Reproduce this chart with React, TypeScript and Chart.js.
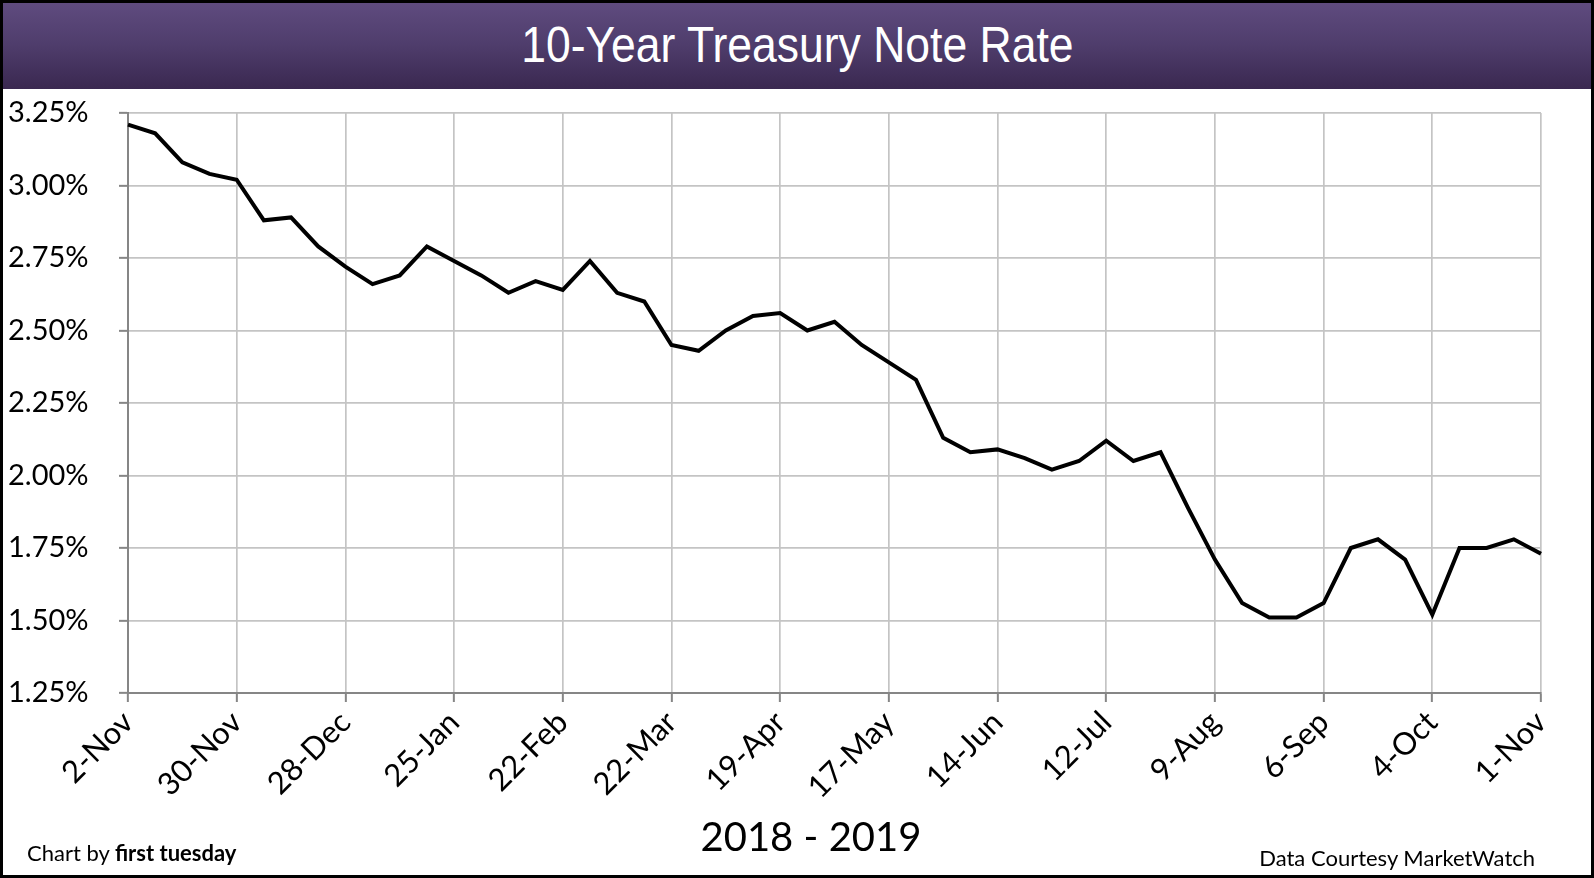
import React, { useEffect, useRef } from 'react';
import { Chart, registerables } from 'chart.js';

Chart.register(...registerables);

const weeks = [
  '2-Nov', '9-Nov', '16-Nov', '23-Nov', '30-Nov', '7-Dec', '14-Dec', '21-Dec', '28-Dec',
  '4-Jan', '11-Jan', '18-Jan', '25-Jan', '1-Feb', '8-Feb', '15-Feb', '22-Feb',
  '1-Mar', '8-Mar', '15-Mar', '22-Mar', '29-Mar', '5-Apr', '12-Apr', '19-Apr', '26-Apr',
  '3-May', '10-May', '17-May', '24-May', '31-May', '7-Jun', '14-Jun', '21-Jun', '28-Jun',
  '5-Jul', '12-Jul', '19-Jul', '26-Jul', '2-Aug', '9-Aug', '16-Aug', '23-Aug', '30-Aug',
  '6-Sep', '13-Sep', '20-Sep', '27-Sep', '4-Oct', '11-Oct', '18-Oct', '25-Oct', '1-Nov',
];

const rates = [
  3.21, 3.18, 3.08, 3.04, 3.02, 2.88, 2.89, 2.79, 2.72,
  2.66, 2.69, 2.79, 2.74, 2.69, 2.63, 2.67, 2.64,
  2.74, 2.63, 2.60, 2.45, 2.43, 2.50, 2.55, 2.56, 2.50,
  2.53, 2.45, 2.39, 2.33, 2.13, 2.08, 2.09, 2.06, 2.02,
  2.05, 2.12, 2.05, 2.08, 1.89, 1.71, 1.56, 1.51, 1.51,
  1.56, 1.75, 1.78, 1.71, 1.52, 1.75, 1.75, 1.78, 1.73,
];

const labelEvery = 4;
const yMin = 1.25;
const yMax = 3.25;
const yStep = 0.25;

const titleText = '10-Year Treasury Note Rate';
const xAxisTitle = '2018 - 2019';
const creditLeft = 'Chart by ';
const creditLeftBold = 'first tuesday';
const creditRight = 'Data Courtesy MarketWatch';

const AXIS = '#868686';
const GRID = '#c4c4c4';
const FONT = 'Lato, "Open Sans", sans-serif';

export default function App() {
  const ref = useRef<HTMLCanvasElement | null>(null);

  useEffect(() => {
    if (!ref.current) return;
    const chart = new Chart(ref.current, {
      type: 'line',
      data: {
        labels: weeks,
        datasets: [
          {
            label: '10-Year Treasury Note Rate',
            data: rates,
            borderColor: '#000000',
            borderWidth: 4,
            pointRadius: 0,
            tension: 0,
            fill: false,
          },
        ],
      },
      options: {
        animation: false,
        responsive: false,
        devicePixelRatio: 1,
        layout: { padding: { left: 8, right: 53, top: 24, bottom: 0 } },
        plugins: {
          legend: { display: false },
          title: { display: false },
          tooltip: { enabled: false },
        },
        scales: {
          x: {
            type: 'category',
            offset: false,
            grid: {
              color: (ctx: any) => (ctx.index === 0 ? AXIS : GRID),
              lineWidth: 1.7,
              tickLength: 9,
              tickColor: AXIS,
              tickWidth: 2,
              drawTicks: true,
            },
            border: { color: AXIS, width: 2 },
            ticks: {
              autoSkip: false,
              minRotation: 45,
              maxRotation: 45,
              padding: 2,
              color: '#000000',
              font: { family: FONT, size: 31 },
              callback: function (this: any, value: any, index: number) {
                return index % labelEvery === 0 ? this.getLabelForValue(value) : null;
              },
            },
            afterFit: (scale: any) => {
              scale.height = 185;
            },
          },
          y: {
            min: yMin,
            max: yMax,
            grid: {
              color: (ctx: any) => (ctx.tick && ctx.tick.value === yMin ? AXIS : GRID),
              lineWidth: 1.7,
              tickLength: 9,
              tickColor: AXIS,
              tickWidth: 2,
            },
            border: { color: AXIS, width: 2 },
            ticks: {
              stepSize: yStep,
              padding: 0,
              crossAlign: 'far',
              color: '#000000',
              font: { family: FONT, size: 29 },
              callback: (v: any) => Number(v).toFixed(2) + '%',
            },
            afterFit: (scale: any) => {
              scale.width = 120;
            },
          },
        },
      },
    });
    return () => chart.destroy();
  }, []);

  return (
    <div
      style={{
        position: 'absolute',
        left: 0,
        top: 0,
        width: 1594,
        height: 878,
        background: '#ffffff',
        overflow: 'hidden',
        fontFamily: FONT,
      }}
    >
      <div
        style={{
          position: 'absolute',
          left: 0,
          top: 0,
          width: 1594,
          height: 89,
          background: 'linear-gradient(to bottom, #604c80 0%, #4f3d6c 50%, #3a2850 100%)',
          color: '#ffffff',
          display: 'flex',
          alignItems: 'center',
          justifyContent: 'center',
          fontFamily: '"Liberation Sans", Arial, sans-serif',
          fontSize: 50,
        }}
      >
        <span style={{ display: 'inline-block', transform: 'scaleX(0.89)', position: 'relative', left: 0 }}>
          {titleText}
        </span>
      </div>
      <canvas
        ref={ref}
        width={1594}
        height={789}
        style={{ position: 'absolute', left: 0, top: 89, width: 1594, height: 789 }}
      />
      <div
        style={{
          position: 'absolute',
          left: 811,
          top: 812,
          transform: 'translateX(-50%)',
          fontSize: 40,
          lineHeight: '48px',
          color: '#000000',
          whiteSpace: 'nowrap',
        }}
      >
        {xAxisTitle}
      </div>
      <div
        style={{
          position: 'absolute',
          left: 27,
          top: 840,
          fontSize: 22,
          lineHeight: '26px',
          color: '#000000',
          whiteSpace: 'nowrap',
        }}
      >
        {creditLeft}
        <b>{creditLeftBold}</b>
      </div>
      <div
        style={{
          position: 'absolute',
          right: 59,
          top: 845,
          fontSize: 22,
          lineHeight: '26px',
          color: '#000000',
          whiteSpace: 'nowrap',
        }}
      >
        {creditRight}
      </div>
      <div
        style={{
          position: 'absolute',
          left: 0,
          top: 0,
          width: 1594,
          height: 878,
          boxSizing: 'border-box',
          border: '3px solid #000000',
          pointerEvents: 'none',
        }}
      />
    </div>
  );
}
